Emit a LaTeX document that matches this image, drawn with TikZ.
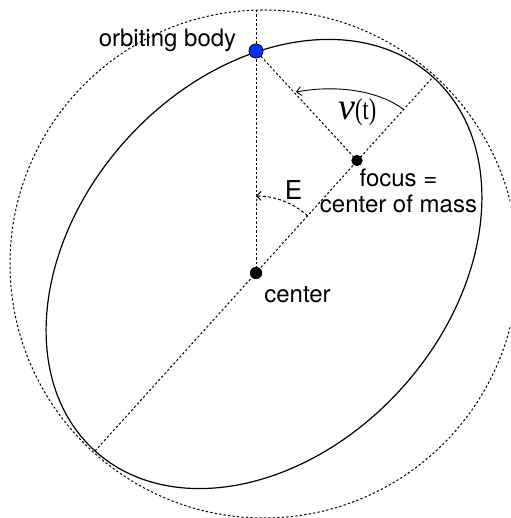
\documentclass[tikz,border=0pt]{standalone}
\usepackage{fontspec}
\usepackage{graphicx}
\setmainfont{TeX Gyre Heros}
\newfontfamily\grserif{Liberation Serif}
\usetikzlibrary{arrows.meta}
\tikzset{
  dotline/.style={line width=1pt, dash pattern=on 2.3pt off 2.2pt},
  dashline/.style={line width=1pt, dash pattern=on 3pt off 2.2pt},
  orbit/.style={line width=1.2pt},
  barb/.style={-{Straight Barb[length=4.5pt,width=9pt]}},
  lbl/.style={font=\fontsize{24}{26}\selectfont, inner sep=0pt, anchor=base},
  bigdot/.style={circle, fill=black, inner sep=0pt, minimum size=#1},
  bodydot/.style={circle, fill={rgb,255:red,0;green,51;blue,255}, draw=black, line width=0.6pt, inner sep=0pt, minimum size=14pt}
}
\begin{document}
\begin{tikzpicture}[x=1pt,y=1pt]
\clip (0,0) rectangle (510,518);
\fill[white] (0,0) rectangle (510,518);
% geometry
\coordinate (ec) at (264,254);
\coordinate (top) at (256,508);
\coordinate (A1) at (433,441);
\coordinate (A2) at (95,67);
% auxiliary circle and orbit
\draw[dotline] (ec) circle[radius=254];
\draw[orbit, rotate around={47.9:(ec)}] (ec) ellipse[x radius=252, y radius=185.5];
% points
\node[bigdot=12pt] (cdot) at (256,245) {};
\node[bigdot=11pt] (focus) at (357,357.5) {};
\node[bodydot] (body) at (256,467) {};
% lines
\draw[dotline] (A2) -- (A1);
\draw[dotline] (top) -- (cdot.center);
\draw[dotline] (body) -- (focus.center);
% angles
\draw[dashline, barb] ([shift={(47.9:77)}]cdot.center) arc[start angle=47.9, end angle=90, radius=77];
\draw[line width=0.9pt, barb] (403,409) .. controls (380,426) and (340,434) .. (296,426);
% redraw dots on top
\node[bigdot=12pt] at (cdot) {};
\node[bigdot=11pt] at (focus) {};
\node[bodydot] at (body) {};
% labels
\node[lbl] (lbody) at (167.5,471.3) {orbiting body};
\node[lbl, anchor=base east] (lnu) at (356,398.7) {\fontsize{38}{38}\selectfont\grserif\itshape ν};
\node[lbl, anchor=base west] (lt) at (355,398.7) {\grserif\fontsize{30}{30}\selectfont\scalebox{0.74}[1]{(t)}};
\node[lbl, font=\fontsize{26}{28}\selectfont] (lE) at (293.5,318.7) {E};
\node[lbl] (lf1) at (398.5,331) {focus =};
\node[lbl] (lf2) at (398.5,305) {center of mass};
\node[lbl] (lc) at (297.5,215.7) {center};
\end{tikzpicture}
\end{document}
